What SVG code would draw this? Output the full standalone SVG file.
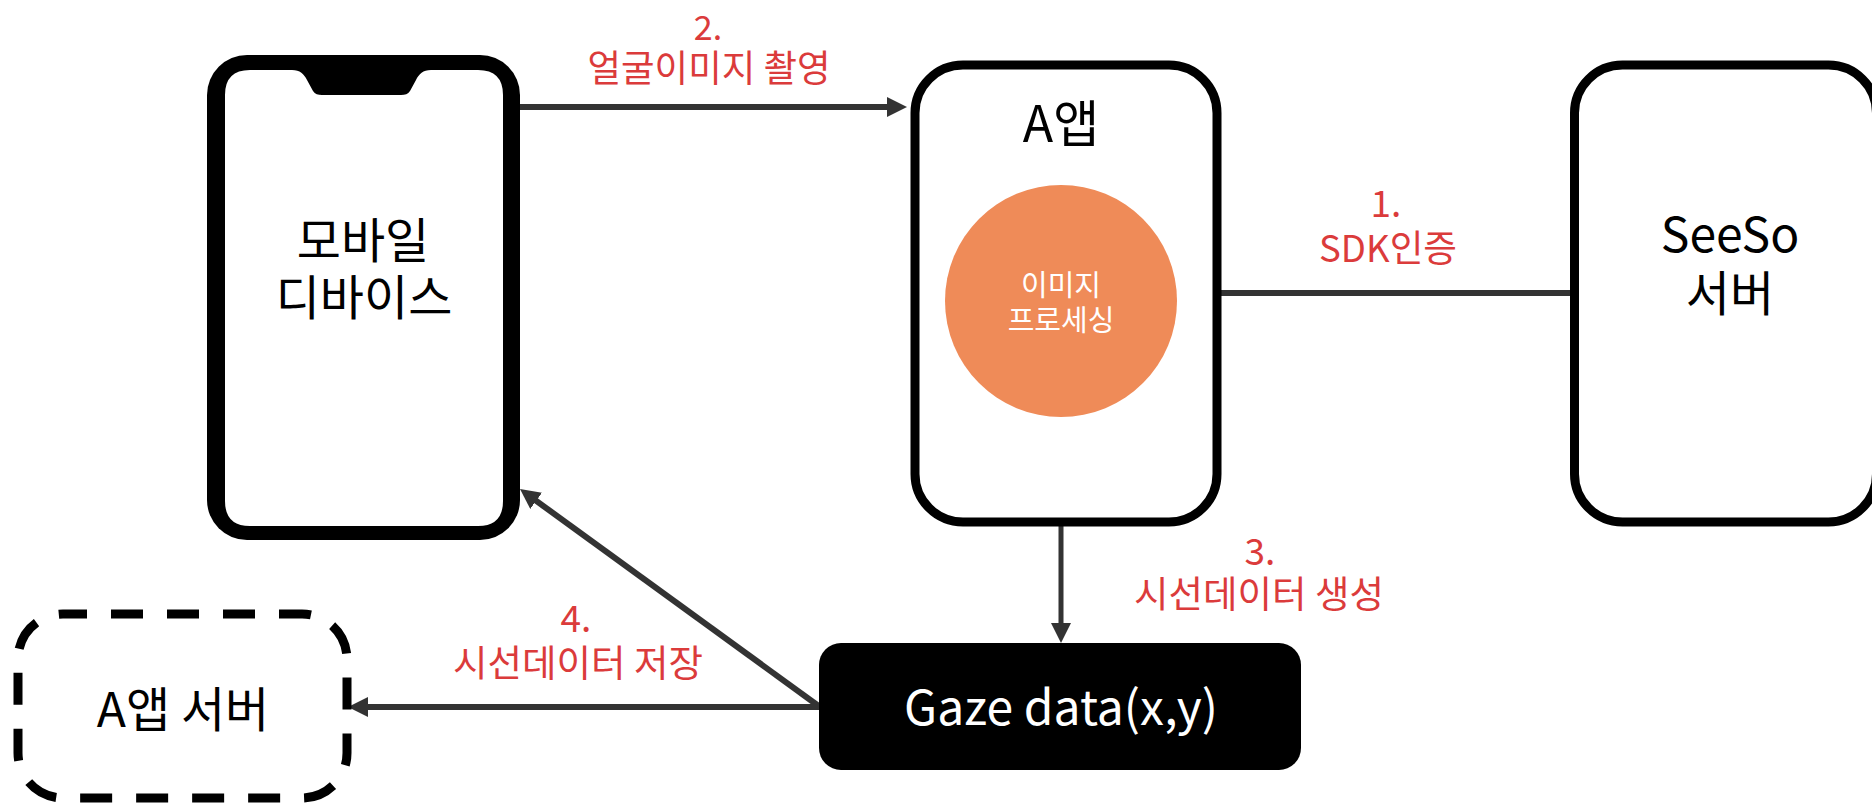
<svg xmlns="http://www.w3.org/2000/svg" width="1872" height="804" viewBox="0 0 1872 804">
<style>
text{font-family:"Noto Sans CJK KR","Noto Sans",sans-serif;text-anchor:middle}
.big{font-size:48px;fill:#000}
.red{font-size:37px;fill:#DB3B3B}
.wht{fill:#fff}
.box{fill:#fff;stroke:#000;stroke-width:9}
.con{stroke:#333;stroke-width:6;fill:none}
</style>
<defs>
<marker id="ah" markerUnits="userSpaceOnUse" markerWidth="20" markerHeight="20" refX="8" refY="10" orient="auto">
<path d="M0,0 L20,10 L0,20 z" fill="#333"/>
</marker>
</defs>
<rect width="1872" height="804" fill="#fff"/>

<g id="connectors">
<line class="con" x1="520" y1="107" x2="895" y2="107" marker-end="url(#ah)"/>
<line class="con" x1="1220" y1="293" x2="1572" y2="293"/>
<line class="con" x1="1061" y1="416" x2="1061" y2="631" style="stroke-width:5" marker-end="url(#ah)"/>
<line class="con" x1="820" y1="707" x2="529.7" y2="496.1" marker-end="url(#ah)"/>
<line class="con" x1="820" y1="707" x2="360" y2="707" marker-end="url(#ah)"/>
</g>

<g id="phone">
<rect x="207" y="55" width="313" height="485" rx="40" fill="#000"/>
<path d="M250,70 L292,70 C300,70 304,74 307,80 L313,91 C315,94 318,95 322,95 L401,95 C405,95 408,94 410,91 L416,80 C419,74 423,70 431,70 L478,70 Q503,70 503,95 L503,501 Q503,526 478,526 L250,526 Q225,526 225,501 L225,95 Q225,70 250,70 Z" fill="#fff"/>
<text class="big" x="363" y="258" font-size="46">모바일</text>
<text class="big" x="364" y="315" font-size="46">디바이스</text>
</g>

<g id="aapp">
<rect class="box" x="915" y="65" width="302" height="457" rx="48"/>
<text class="big" x="1061" y="142" style="font-size:50px">A앱</text>
</g>

<g id="processing">
<circle cx="1061" cy="301" r="116" fill="#EF8B58"/>
<text class="wht" x="1061" y="296" style="font-size:29px">이미지</text>
<text class="wht" x="1061" y="331" style="font-size:29px">프로세싱</text>
</g>

<g id="seeso">
<rect class="box" x="1574.5" y="65" width="302" height="457" rx="48"/>
<text class="big" x="1730" y="252">SeeSo</text>
<text class="big" x="1730" y="311">서버</text>
</g>

<g id="gaze">
<rect x="819" y="643" width="482" height="127" rx="22" fill="#000"/>
<text class="wht" x="1061" y="725" style="font-size:48px">Gaze data(x,y)</text>
</g>

<g id="aserver">
<rect x="18" y="614" width="329" height="184" rx="45" fill="none" stroke="#000" stroke-width="9" stroke-dasharray="32 24" stroke-dashoffset="8"/>
<text class="big" x="183" y="727">A앱 서버</text>
</g>

<g id="labels">
<text class="red" x="708" y="40" style="font-size:34px">2.</text>
<text class="red" x="709" y="82" textLength="243" lengthAdjust="spacingAndGlyphs">얼굴이미지 촬영</text>
<text class="red" x="1386" y="217">1.</text>
<text class="red" x="1388" y="262" textLength="138" lengthAdjust="spacingAndGlyphs">SDK인증</text>
<text class="red" x="1260" y="565">3.</text>
<text class="red" x="1259" y="608" textLength="250" lengthAdjust="spacingAndGlyphs">시선데이터 생성</text>
<text class="red" x="576" y="632">4.</text>
<text class="red" x="578" y="677" textLength="250" lengthAdjust="spacingAndGlyphs">시선데이터 저장</text>
</g>
</svg>
